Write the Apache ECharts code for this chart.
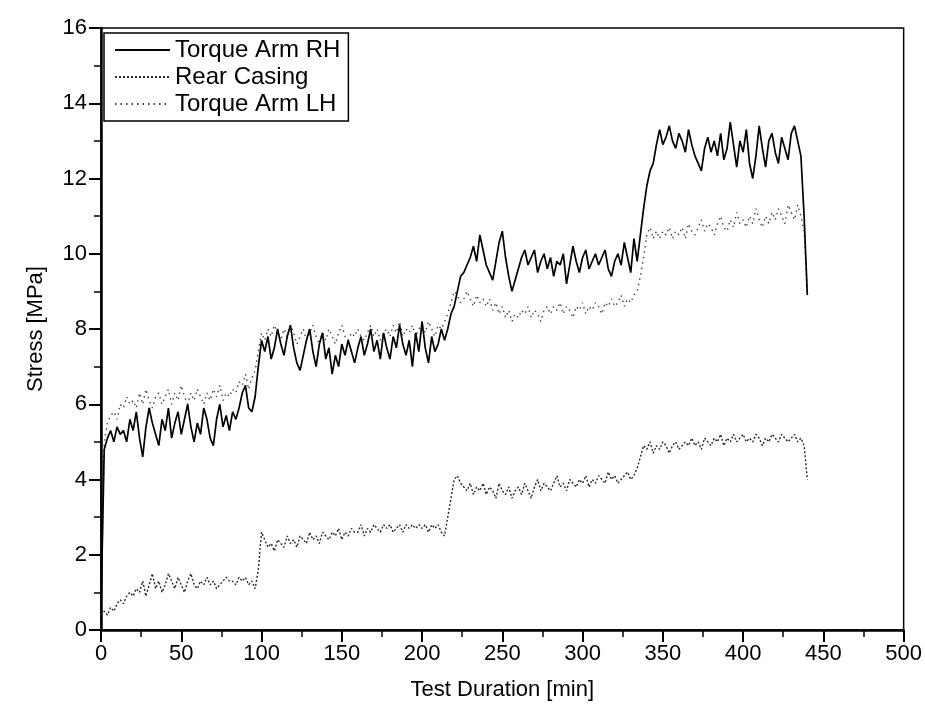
<!DOCTYPE html>
<html>
<head>
<meta charset="utf-8">
<script src="https://cdn.jsdelivr.net/npm/echarts@6/dist/echarts.min.js"></script>
<style>
html,body{margin:0;padding:0;background:#fff;}
#chart{width:925px;height:710px;}
</style>
</head>
<body>
<div id="chart"></div>
<script>
// Sample times [min]
const time = [
0,2,4,6,8,10,12,14,16,18,
20,22,24,26,28,30,32,34,36,38,
40,42,44,46,48,50,52,54,56,58,
60,62,64,66,68,70,72,74,76,78,
80,82,84,86,88,90,92,94,96,98,
100,102,104,106,108,110,112,114,116,118,
120,122,124,126,128,130,132,134,136,138,
140,142,144,146,148,150,152,154,156,158,
160,162,164,166,168,170,172,174,176,178,
180,182,184,186,188,190,192,194,196,198,
200,202,204,206,208,210,212,214,216,218,
220,222,224,226,228,230,232,234,236,238,
240,242,244,246,248,250,252,254,256,258,
260,262,264,266,268,270,272,274,276,278,
280,282,284,286,288,290,292,294,296,298,
300,302,304,306,308,310,312,314,316,318,
320,322,324,326,328,330,332,334,336,338,
340,342,344,346,348,350,352,354,356,358,
360,362,364,366,368,370,372,374,376,378,
380,382,384,386,388,390,392,394,396,398,
400,402,404,406,408,410,412,414,416,418,
420,422,424,426,428,430,432,434,436,438,
440];

// Torque Arm RH [MPa]
const torqueArmRH = [
0.5,4.8,5.1,5.3,5.0,5.4,5.2,5.3,5.0,5.6,
5.3,5.8,5.1,4.6,5.4,5.9,5.5,5.2,4.9,5.6,
5.3,5.9,5.1,5.5,5.8,5.2,5.6,6.0,5.4,5.0,
5.5,5.2,5.9,5.6,5.1,4.9,5.6,6.0,5.4,5.7,
5.3,5.8,5.6,5.9,6.3,6.5,5.9,5.8,6.2,7.0,
7.7,7.4,7.8,7.2,7.5,8.0,7.6,7.3,7.8,8.1,
7.5,7.1,6.9,7.3,7.7,8.0,7.4,7.0,7.6,7.9,
7.2,7.5,6.8,7.3,7.0,7.6,7.3,7.7,7.4,7.1,
7.5,7.8,7.3,7.6,8.0,7.4,7.7,7.2,7.9,7.5,
7.2,7.8,7.5,8.1,7.6,7.3,7.7,7.0,7.9,7.4,
8.2,7.5,7.1,7.8,7.4,7.6,8.0,7.7,8.0,8.4,
8.6,9.0,9.4,9.5,9.7,9.9,10.2,9.8,10.5,10.1,
9.7,9.5,9.3,9.8,10.3,10.6,9.9,9.4,9.0,9.3,
9.6,9.9,10.1,9.7,9.9,10.1,9.5,9.8,10.0,9.6,
9.9,9.4,9.8,9.7,10.0,9.2,9.7,10.2,9.8,9.5,
9.9,10.1,9.6,9.8,10.0,9.7,9.9,10.1,9.6,9.4,
9.8,10.0,9.7,10.3,9.9,9.5,10.4,9.8,10.5,11.2,
11.8,12.2,12.4,12.9,13.3,12.9,13.1,13.4,13.0,12.8,
13.2,13.0,12.7,13.3,12.9,12.6,12.4,12.2,12.8,13.1,
12.7,13.0,12.6,13.2,12.5,12.8,13.5,12.9,12.3,13.0,
12.7,13.3,12.4,12.0,12.6,13.4,12.8,12.3,13.0,13.2,
12.7,12.4,13.1,12.8,12.5,13.2,13.4,13.0,12.6,11.0,
8.9];

// Rear Casing [MPa]
const rearCasing = [
0.4,0.5,0.4,0.6,0.5,0.7,0.8,0.7,0.9,1.0,
0.9,1.1,1.0,1.3,0.9,1.2,1.5,1.1,1.3,1.0,
1.2,1.5,1.3,1.1,1.4,1.2,1.0,1.3,1.5,1.2,
1.1,1.3,1.2,1.4,1.2,1.3,1.1,1.2,1.3,1.4,
1.3,1.3,1.2,1.4,1.3,1.4,1.2,1.3,1.1,1.6,
2.6,2.4,2.2,2.3,2.1,2.4,2.3,2.2,2.5,2.3,
2.4,2.2,2.5,2.4,2.3,2.6,2.4,2.5,2.3,2.6,
2.5,2.4,2.6,2.5,2.7,2.4,2.6,2.5,2.7,2.6,
2.6,2.8,2.5,2.7,2.6,2.8,2.7,2.6,2.8,2.7,
2.8,2.6,2.7,2.8,2.6,2.8,2.7,2.8,2.7,2.8,
2.7,2.8,2.6,2.8,2.7,2.8,2.6,2.5,3.0,3.5,
4.0,4.1,3.9,3.8,3.7,3.9,3.6,3.8,3.7,3.9,
3.6,3.8,3.7,3.5,3.9,3.7,3.6,3.8,3.5,3.7,
3.8,3.6,3.9,3.7,3.5,3.8,4.0,3.7,3.9,3.8,
3.7,3.9,4.1,3.8,3.9,3.7,4.0,3.9,3.8,4.0,
3.9,4.1,3.8,4.0,3.9,4.1,4.0,3.9,4.2,4.0,
4.1,3.9,4.0,4.1,4.2,4.0,4.1,4.3,4.6,4.9,
4.8,5.0,4.7,4.9,4.8,5.0,4.9,4.7,4.9,5.0,
4.8,4.9,5.0,4.9,5.1,4.9,5.0,4.8,5.1,5.0,
4.9,5.1,5.0,5.2,4.9,5.1,5.0,5.2,5.0,5.1,
5.2,5.0,5.1,5.0,5.2,5.1,4.9,5.1,5.0,5.2,
5.1,5.0,5.2,5.1,5.0,5.1,5.2,5.0,5.1,4.9,
4.0];

// Torque Arm LH [MPa]
const torqueArmLH = [
0.5,5.0,5.5,5.7,5.8,5.6,6.0,5.9,6.2,6.0,
6.1,5.9,6.3,6.0,6.4,6.1,5.9,6.2,6.3,6.0,
6.2,6.4,6.0,6.3,6.1,6.5,6.2,6.0,6.3,6.1,
6.4,6.2,6.0,6.3,6.1,6.4,6.2,6.5,6.1,6.3,
6.2,6.4,6.3,6.6,6.5,6.8,6.4,6.7,6.9,7.4,
7.9,7.7,8.0,7.8,8.1,7.9,7.7,8.0,7.8,8.1,
7.9,7.6,7.8,8.0,7.7,7.9,8.1,7.8,7.6,7.9,
7.7,8.0,7.8,7.6,7.9,8.1,7.8,7.7,7.9,7.8,
8.0,7.8,7.7,7.9,8.1,7.8,8.0,7.7,7.9,8.0,
7.8,8.1,7.9,8.2,7.8,8.0,7.9,8.1,7.8,8.0,
8.1,7.9,8.2,8.0,7.8,8.1,8.0,8.2,8.4,8.7,
9.0,8.9,8.7,8.8,9.0,8.8,8.6,8.9,8.7,8.8,
8.6,8.8,8.5,8.7,8.4,8.6,8.3,8.5,8.2,8.4,
8.3,8.5,8.4,8.6,8.3,8.5,8.4,8.2,8.5,8.6,
8.4,8.6,8.5,8.7,8.4,8.6,8.5,8.3,8.6,8.5,
8.7,8.4,8.6,8.5,8.7,8.6,8.4,8.7,8.6,8.8,
8.6,8.7,8.9,8.6,8.8,8.7,8.9,9.0,9.4,9.9,
10.5,10.7,10.4,10.6,10.4,10.6,10.5,10.7,10.4,10.6,
10.5,10.7,10.4,10.8,10.6,10.5,10.7,10.9,10.6,10.8,
10.7,10.5,10.8,11.0,10.7,10.6,10.9,10.7,11.1,10.8,
10.9,10.7,11.0,10.8,11.2,10.9,10.7,11.0,10.8,11.1,
10.9,11.2,11.0,10.8,11.3,11.1,10.9,11.3,11.0,10.6,
9.0];

const seriesNames = ['Torque Arm RH', 'Rear Casing', 'Torque Arm LH'];
const xTicks = { min: 0, max: 500, interval: 50 };
const yTicks = { min: 0, max: 16, interval: 2 };

function pairs(vals) {
  const out = [];
  for (let i = 0; i < time.length && i < vals.length; i++) out.push([time[i], vals[i]]);
  return out;
}

const FONT = "'Liberation Sans', Arial, sans-serif";
const chart = echarts.init(document.getElementById('chart'), null, { renderer: 'canvas' });

chart.setOption({
  animation: false,
  backgroundColor: '#fff',
  textStyle: { fontFamily: FONT, color: '#000' },
  grid: {
    left: 101, right: 20, top: 28, bottom: 80,
    show: true, borderColor: '#000', borderWidth: 1.5, backgroundColor: 'transparent'
  },
  legend: {
    data: seriesNames,
    orient: 'vertical',
    left: 104, top: 33,
    padding: [5, 8, 5, 10],
    itemWidth: 55, itemHeight: 14, itemGap: 3,
    backgroundColor: '#fff',
    borderColor: '#000', borderWidth: 1.5, borderRadius: 0,
    itemStyle: { opacity: 0 },
    textStyle: { fontFamily: FONT, fontSize: 24, color: '#000', padding: [0, 0, 0, 0] }
  },
  xAxis: {
    type: 'value',
    min: xTicks.min, max: xTicks.max, interval: xTicks.interval,
    name: 'Test Duration [min]', nameLocation: 'middle', nameGap: 49,
    nameTextStyle: { fontFamily: FONT, fontSize: 22, color: '#000' },
    axisLine: { show: true, lineStyle: { color: '#000', width: 2.5 } },
    axisTick: { show: true, inside: false, length: 12, lineStyle: { color: '#000', width: 2 } },
    minorTick: { show: true, splitNumber: 2, length: 7, lineStyle: { color: '#000', width: 1.5 } },
    axisLabel: { fontFamily: FONT, fontSize: 22, color: '#000', margin: 13 },
    splitLine: { show: false }
  },
  yAxis: {
    type: 'value',
    min: yTicks.min, max: yTicks.max, interval: yTicks.interval,
    name: 'Stress [MPa]', nameLocation: 'middle', nameGap: 54, nameRotate: 90,
    nameTextStyle: { fontFamily: FONT, fontSize: 22, color: '#000' },
    axisLine: { show: true, lineStyle: { color: '#000', width: 2.5 } },
    axisTick: { show: true, inside: false, length: 12, lineStyle: { color: '#000', width: 2 } },
    minorTick: { show: true, splitNumber: 2, length: 7, lineStyle: { color: '#000', width: 1.5 } },
    axisLabel: { fontFamily: FONT, fontSize: 22, color: '#000', margin: 14 },
    splitLine: { show: false }
  },
  series: [
    {
      name: 'Rear Casing', type: 'line', showSymbol: false, symbol: 'none', symbolSize: 0,
      data: pairs(rearCasing), z: 2,
      lineStyle: { color: '#2a2a2a', width: 1.4, type: [2, 2] },
      itemStyle: { color: '#2a2a2a' }
    },
    {
      name: 'Torque Arm LH', type: 'line', showSymbol: false, symbol: 'none', symbolSize: 0,
      data: pairs(torqueArmLH), z: 2,
      lineStyle: { color: '#444', width: 1.4, type: [1.5, 4] },
      itemStyle: { color: '#444' }
    },
    {
      name: 'Torque Arm RH', type: 'line', showSymbol: false, symbol: 'none', symbolSize: 0,
      data: pairs(torqueArmRH), z: 3,
      lineStyle: { color: '#000', width: 1.7, type: 'solid' },
      itemStyle: { color: '#000' }
    }
  ]
});
</script>
</body>
</html>
